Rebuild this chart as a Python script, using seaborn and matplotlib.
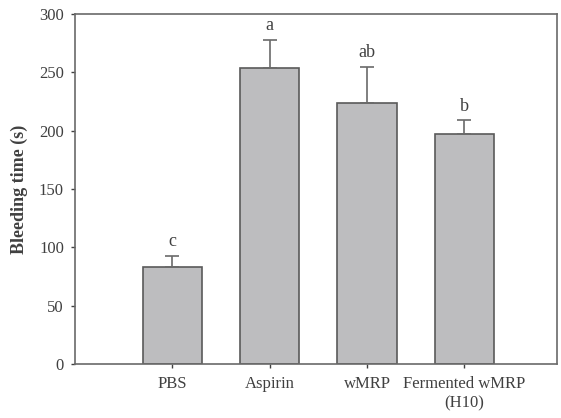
import numpy as np
import pandas as pd
import matplotlib
matplotlib.use("Agg")
import matplotlib.pyplot as plt
import seaborn as sns

groups = ["PBS", "Aspirin", "wMRP", "Fermented wMRP\n(H10)"]
bleeding_time = [83, 254, 224, 197]
sem = [10, 24, 31, 12]
letters = ["c", "a", "ab", "b"]

sns.set_theme(style="white")
plt.rcParams["font.family"] = ["Liberation Serif", "DejaVu Serif"]

edge = "#5a5a5a"
txt = "#404040"

df = pd.DataFrame({"group": groups, "time": bleeding_time})

fig = plt.figure(figsize=(5.61, 4.18), dpi=100)
ax = fig.add_axes([75 / 561, 1 - 364 / 418, (557 - 75) / 561, 350 / 418])

sns.barplot(data=df, x="group", y="time", color="#bdbdbf", edgecolor=edge,
            linewidth=1.2, width=0.61, saturation=1, errorbar=None, ax=ax)

ax.errorbar(np.arange(len(groups)), bleeding_time, yerr=[np.zeros(len(sem)), sem],
            fmt="none", ecolor="#6a6a6a", elinewidth=1.2, capsize=5, capthick=1.2)

for i, (v, e, lab) in enumerate(zip(bleeding_time, sem, letters)):
    ax.annotate(lab, (i, v + e), xytext=(0, 4), textcoords="offset points",
                ha="center", va="bottom", fontsize=13, color=txt)

ax.set_xlim(-1.0, 3.95)
ax.set_ylim(0, 300)
ax.set_yticks(range(0, 301, 50))
ax.set_xlabel("")
ax.set_ylabel("Bleeding time (s)", fontsize=13, fontweight="bold", color=txt, labelpad=8)
ax.tick_params(axis="both", labelsize=12, colors=txt, length=3, width=1, direction="out",
               bottom=True, left=True, top=False, right=False)
ax.tick_params(axis="y", pad=5)
ax.tick_params(axis="x", pad=6)
for s in ax.spines.values():
    s.set_color("#6a6a6a")
    s.set_linewidth(1.2)

fig.savefig("out.png", dpi=100)
